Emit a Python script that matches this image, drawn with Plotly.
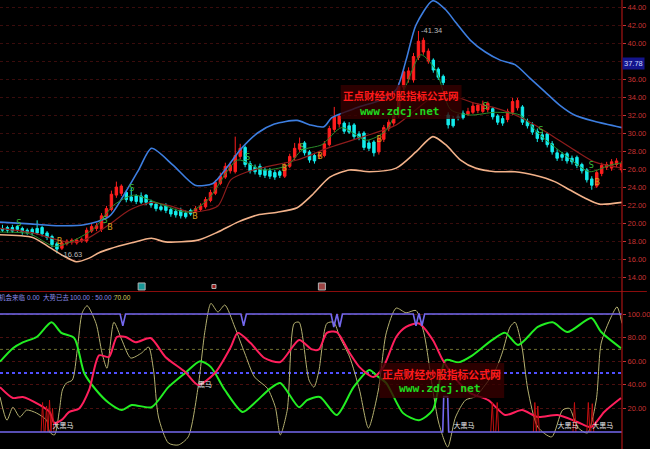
import plotly.graph_objects as go

# ---------------- price bars (bar index 0..125) ----------------
bar_open = [
    19.2, 19.5, 19.1, 19.6, 19.4, 18.9, 19.3, 18.9, 19.5, 18.9, 18.5, 17.7,
    17.2, 17.7, 18.1, 17.8, 18.2, 18.0, 19.1, 19.7, 19.3, 20.7, 21.5, 23.1, 24.1,
    23.4, 22.5, 23.0, 22.3, 23.1, 22.4, 22.1, 21.5, 21.9, 21.5, 20.9, 21.4, 20.7, 21.0,
    21.3, 21.5, 21.8, 22.5, 23.3, 24.4, 25.1, 26.4, 25.7, 27.4,
    28.4, 26.6, 25.7, 26.3, 25.3, 25.8, 25.1, 25.7,
    25.2, 26.3, 27.3, 28.2,
    28.9, 27.9, 26.9,
    27.4, 27.5, 28.7, 30.4, 31.9,
    31.1, 30.1, 30.9, 29.5, 30.0, 28.3, 29.0,
    27.9, 29.3, 30.5, 31.1, 32.0, 35.1, 36.9, 35.9, 38.4, 40.3, 39.1,
    38.1, 37.1, 36.3,
    32.0, 30.8, 31.7, 31.7,
    32.1, 32.3, 33.1, 32.4, 33.3,
    32.7, 31.9, 31.1,
    31.5, 32.3, 33.6,
    32.9, 31.3, 30.9, 30.2, 29.3, 29.9, 28.8, 27.8, 27.3, 27.7, 26.8, 27.3, 26.5, 25.9, 24.9,
    24.1, 25.5, 26.5, 26.1, 26.9, 26.6,
]
bar_high = [
    19.8, 19.7, 19.8, 19.8, 19.6, 19.4, 19.5, 20.3, 19.7, 19.1, 18.7, 17.9,
    18.1, 18.2, 18.3, 18.3, 18.4, 19.5, 20.0, 20.0, 21.1, 21.9, 23.6, 24.6, 24.3,
    23.6, 23.9, 23.2, 23.4, 23.2, 22.6, 22.3, 22.1, 22.2, 21.7, 21.6, 21.7, 21.4, 21.6,
    21.9, 22.2, 22.9, 23.7, 24.8, 25.6, 26.7, 26.8, 29.6, 28.8,
    28.6, 26.9, 26.5, 26.6, 26.2, 26.1, 25.9, 25.9,
    26.7, 27.7, 28.9, 29.5,
    29.1, 28.1, 27.8,
    27.9, 29.1, 30.8, 32.9, 32.1,
    31.3, 31.2, 31.1, 30.2, 30.2, 29.2, 29.2,
    29.7, 30.9, 31.5, 32.3, 35.6, 37.2, 37.3, 38.9, 41.34, 40.6, 39.4,
    38.3, 37.3, 36.5,
    32.3, 31.9, 32.1, 32.5,
    32.8, 33.4, 33.3, 33.6, 33.5,
    32.9, 32.1, 31.9,
    32.7, 33.9, 33.9,
    33.1, 31.6, 31.2, 30.5, 30.1, 30.1, 29.1, 28.2, 27.9, 27.9, 27.5, 27.5, 26.7, 26.1, 25.2,
    25.9, 26.7, 26.8, 27.1, 27.2, 26.9,
]
bar_low = [
    19.0, 18.9, 18.9, 19.0, 18.7, 18.7, 18.6, 18.7, 18.5, 18.1, 17.3, 16.63,
    17.0, 17.5, 17.6, 17.6, 17.8, 17.8, 18.9, 19.1, 19.0, 20.5, 21.3, 22.8, 23.0,
    22.3, 22.3, 22.1, 22.1, 22.0, 21.7, 21.3, 21.3, 21.1, 20.7, 20.6, 20.5, 20.5, 20.8,
    21.1, 21.3, 21.6, 22.3, 23.1, 24.2, 24.9, 25.5, 25.5, 27.1,
    26.2, 25.5, 25.4, 25.1, 25.0, 24.9, 24.8, 25.0,
    25.0, 26.1, 27.0, 27.9,
    27.5, 26.7, 26.6,
    27.1, 27.3, 28.5, 30.1, 30.6,
    29.9, 29.9, 29.3, 29.2, 28.1, 28.0, 27.4,
    27.6, 29.0, 30.2, 30.8, 31.7, 34.8, 35.6, 35.6, 38.1, 38.7, 37.7,
    36.7, 35.9, 35.3,
    30.5, 30.6, 31.4, 31.5,
    31.9, 32.1, 32.2, 32.2, 32.3,
    31.5, 30.9, 30.8,
    31.2, 32.0, 32.5,
    30.9, 30.5, 29.8, 29.0, 29.0, 28.4, 27.6, 26.9, 26.9, 26.6, 26.5, 26.1, 25.5, 24.5, 23.7,
    23.9, 25.2, 25.9, 25.8, 26.2, 25.6,
]
bar_close = [
    19.4, 19.2, 19.5, 19.3, 19.0, 19.2, 18.9, 19.4, 18.8, 18.4, 17.6, 17.1,
    17.8, 18.0, 17.9, 18.1, 18.0, 19.2, 19.6, 19.4, 20.8, 21.6, 23.2, 24.0, 23.3,
    22.6, 22.9, 22.4, 23.0, 22.3, 22.0, 21.6, 21.8, 21.4, 21.0, 21.3, 20.8, 21.1, 21.4,
    21.6, 21.9, 22.6, 23.4, 24.5, 25.2, 26.3, 25.8, 27.5, 28.3,
    26.5, 25.8, 26.2, 25.4, 25.9, 25.2, 25.6, 25.3,
    26.4, 27.4, 28.3, 28.8,
    27.8, 27.0, 27.5,
    27.6, 28.8, 30.5, 31.8, 31.0,
    30.2, 30.8, 29.6, 29.9, 28.4, 28.9, 27.8,
    29.4, 30.6, 31.2, 31.9, 35.2, 36.8, 36.0, 38.5, 40.2, 39.0, 38.0,
    37.0, 36.2, 35.6,
    30.9, 31.6, 31.8, 32.2,
    32.4, 33.0, 32.5, 33.2, 32.6,
    31.8, 31.2, 31.6,
    32.4, 33.5, 32.8,
    31.2, 30.8, 30.1, 29.4, 29.8, 28.7, 27.9, 27.2, 27.6, 26.9, 27.2, 26.4, 25.8, 24.8, 24.2,
    25.6, 26.4, 26.2, 26.8, 26.5, 25.9,
]
# trend state runs (colour of the bars)
trend_runs = [("down", 12), ("up", 13), ("down", 14), ("up", 10), ("down", 8), ("up", 4),
              ("down", 3), ("up", 5), ("down", 7), ("up", 11), ("down", 3), ("down", 4),
              ("up", 5), ("down", 3), ("up", 3), ("down", 15), ("up", 6)]

# ---------------- price-panel lines ----------------
upper_band_x = [-0.5, 5.5, 11.5, 16.5, 21.5, 24.5, 27.5, 30.1, 34.5, 38.9, 42.5, 45.5, 48.1,
                51.5, 54.9, 59.5, 62.1, 64.9, 66.5, 71.5, 76.5, 79.5, 81.5, 83.5, 86.9,
                89.5, 91.5, 94.5, 97.5, 100.5, 103.5, 106.5, 109.5, 112.5, 115.5, 119.5, 125.1]
upper_band_y = [20.1, 19.9, 19.7, 19.8, 20.7, 23.1, 25.9, 28.3, 26.4, 24.2, 24.4, 26.3, 28.2,
                30.0, 31.0, 31.4, 30.9, 30.7, 31.7, 32.8, 33.7, 34.8, 38.1, 42.0, 44.7,
                43.7, 42.3, 40.3, 39.0, 38.1, 37.6, 36.1, 34.6, 33.1, 32.0, 31.3, 30.6]
lower_band_x = [-0.5, 6.1, 9.5, 12.5, 14.9, 17.5, 19.5, 21.5, 26.1, 30.1, 32.9, 39.5, 43.5,
                47.5, 51.5, 55.5, 59.5, 62.5, 66.1, 70.1, 74.1, 79.5, 83.5, 86.9, 89.5,
                92.5, 95.5, 99.5, 103.5, 107.5, 111.5, 114.5, 117.5, 120.5, 125.1]
lower_band_y = [18.7, 18.4, 17.3, 16.3, 15.7, 16.1, 16.7, 17.1, 17.8, 18.3, 17.9, 18.1, 19.0,
                20.1, 20.9, 21.2, 21.7, 23.1, 25.1, 25.9, 25.7, 26.1, 27.9, 29.6, 28.7,
                27.0, 26.1, 25.7, 25.7, 25.3, 24.6, 23.7, 22.8, 22.1, 22.3]
mid_ma_x = [-0.5, 6.1, 12.9, 16.5, 21.5, 25.5, 30.1, 34.5, 38.1, 43.5, 46.1, 49.5, 52.9,
            59.5, 66.1, 72.9, 79.5, 83.5, 87.5, 91.5, 95.5, 99.5, 103.5, 107.5, 111.5,
            115.5, 119.5, 125.1]
mid_ma_y = [19.4, 18.9, 17.9, 18.1, 19.8, 21.4, 22.3, 21.8, 21.2, 21.9, 24.8, 25.7, 26.2,
            27.0, 28.4, 29.6, 30.9, 32.6, 34.2, 34.0, 33.3, 32.8, 32.0, 30.9, 29.5,
            28.1, 26.8, 26.1]
short_ma_x = [-0.5, 5.5, 10.5, 14.5, 18.5, 22.5, 26.5, 31.5, 37.5, 41.5, 47.5, 52.5, 57.5,
              60.5, 64.5, 68.5, 73.5, 77.5, 81.5, 84.5, 87.5, 90.5, 94.5, 99.5, 104.5,
              108.5, 113.5, 118.5, 122.5, 125.1]
short_ma_y = [19.0, 18.8, 17.4, 18.1, 19.4, 22.0, 23.1, 22.2, 21.2, 22.6, 27.0, 25.9, 26.4,
              28.1, 28.7, 30.6, 29.2, 30.3, 35.3, 38.7, 37.0, 32.6, 32.0, 32.3, 32.0,
              29.8, 27.6, 25.7, 26.4, 26.7]

# buy / sell marks
sell_mark_x = [3.3, 20.7, 26.1, 49.5, 60.5, 97.5, 108.7, 118.9]
sell_mark_y = [19.9, 20.2, 23.8, 27.2, 28.3, 32.9, 30.2, 26.3]
buy_mark_x = [11.5, 21.7, 38.9, 56.9, 64.1, 76.1, 120.1]
buy_mark_y = [17.9, 19.4, 20.7, 26.0, 27.3, 29.2, 24.4]
event_x = [28.1, 42.7, 64.5]
event_colors = ["#22d6d6", "#e02020", "#e06060"]

# ---------------- indicator panel ----------------
green_x = [-0.5, 2.1, 4.1, 6.9, 9.9, 11.9, 14.5, 16.5, 18.9, 21.5, 24.1, 26.1, 30.1, 33.5, 36.9,
           39.9, 42.1, 44.9, 48.5, 50.9, 54.1, 56.1, 59.9, 61.5, 64.1, 67.5, 70.9, 74.1, 75.5,
           77.5, 80.9, 84.1, 86.9, 89.5, 92.1, 94.9, 98.9, 101.5, 104.1, 108.1, 111.1, 114.1,
           118.9, 120.9, 124.9]
green_y = [59.6, 71, 76, 80.5, 93, 84, 79.6, 50, 35.6, 24.6, 18.6, 22.9, 21, 38, 50,
           60, 55, 35.6, 17, 24.6, 37, 41.5, 21, 27, 29.7, 14.4, 38, 52.5, 48,
           41.5, 16, 10, 18.6, 61, 59, 65, 78, 84, 73.7, 89, 93, 84.7,
           96.6, 84.7, 71]
pink_x = [-0.5, 2.1, 4.1, 7.5, 9.5, 10.5, 11.9, 13.5, 15.5, 17.5, 19.5, 21.5, 23.1, 24.9, 26.9,
          29.9, 32.9, 36.9, 39.5, 42.9, 46.1, 47.5, 50.1, 52.9, 56.1, 59.9, 62.5, 63.9, 65.5,
          67.5, 70.1, 72.1, 74.9, 76.9, 79.5, 81.5, 84.1, 86.9, 88.9, 91.5, 94.5, 98.1, 101.5,
          104.9, 108.1, 112.1, 116.1, 118.9, 121.5, 124.9]
pink_y = [38, 28.8, 29.7, 22.9, 17, 7.6, 10, 17, 20, 35.6, 65, 63.6, 80.5, 80.5, 76,
          79.6, 63.6, 50.8, 39.8, 50, 72, 84, 75.4, 62.7, 59.3, 78, 70, 70, 84,
          84.7, 67, 55, 46.6, 55, 80.5, 89, 92, 78, 61, 45, 33, 27, 14.4,
          18.6, 12.7, 14.4, 8.5, 4.2, 17, 28.8]
olive_x = [-0.5, 0.9, 2.1, 3.5, 4.9, 6.9, 8.9, 9.5, 10.5, 11.5,
           12.1, 12.9, 14.1, 15.1, 16.1, 17.1, 18.9, 20.1, 21.1, 22.5,
           24.1, 25.9, 28.1, 29.5, 30.5, 31.5, 33.5, 35.5, 37.5, 39.5,
           40.9, 42.1, 43.5, 44.9, 46.9, 48.9, 50.9, 53.5, 55.1, 56.1,
           57.5, 58.9, 59.9, 61.9, 62.9, 63.9, 65.5, 66.9, 68.1, 70.1,
           72.1, 73.9, 75.9, 77.5, 79.5, 81.5, 83.5, 85.1, 86.9, 88.1,
           89.9, 91.5, 93.5, 95.5, 97.5, 99.5, 100.9, 102.5, 103.5, 104.9,
           106.1, 108.1, 110.9, 113.1, 114.5, 116.1, 118.1, 119.9, 120.9, 122.9,
           124.1, 125.1]
olive_y = [29.7, 10, 21, 12.7, 18.6, 16, 10, 0, -2.5, 18.6,
           35.6, 41.5, 44, 69.5, 101, 107, 92, 67, 54, 93,
           78, 62.7, 67, 72, 52.5, 12.7, -9.3, -11, -4.2, 38,
           86, 109, 101.7, 107.6, 89, 67, 46.6, 37, 21, -2.5,
           18.6, 92, 93, 44, 38, 52, 92, 93, 80.5, 63.6,
           35.6, 3.4, 35.6, 84, 105, 101, 103, 84, 35.6, 7.6,
           -12.7, 12.7, 27, 30, 40, 52, 67, 89, 93, 72,
           35.6, 4.2, -4.2, 18.6, 20, 4.2, -0.8, 27, 75.4, 97.5,
           106, 92]
top_dip_x = [24.3, 48.7, 66.9, 68.1, 83.5, 84.7]
top_dip_y = [90, 90, 89, 89, 90, 90]
bottom_sig_x = [-0.5, 88.9, 89.1, 89.9, 90.1, 125.1]
bottom_sig_y = [0, 0, 30, 30, 0, 0]
stick_x = [8.1, 8.9, 9.5, 10.1, 98.9, 99.9, 107.5, 108.1, 115.5, 118.3, 119.1]
stick_y = [25, 22, 27, 20, 25, 25, 25, 22, 25, 25, 24]
horse_x = [10.1, 39.5, 91.1, 112.1, 119.1]
horse_y = [4.5, 40, 4.5, 4.5, 4.5]
horse_text = ["大黑马", "黑马", "大黑马", "大黑马", "大黑马"]

price_ticks = [14, 16, 18, 20, 22, 24, 26, 28, 30, 32, 34, 36, 38, 40, 42, 44]
osc_ticks = [20, 40, 60, 80, 100]
last_price_tag = 37.78

# ---------------- build ----------------
RED = "#ff1e1e"
CYAN = "#14ecec"
AXIS_RED = "#c83232"
PURPLE = "#7468ee"
CJK = "Noto Sans CJK SC"

trend = []
for state, n in trend_runs:
    trend += [state] * n

fig = go.Figure()

def line(x, y, color, width, axis="1", smooth=True, dash=None):
    fig.add_trace(go.Scatter(
        x=x, y=y, mode="lines",
        line=dict(color=color, width=width, shape="spline" if smooth else "linear",
                  smoothing=0.7, dash=dash),
        xaxis="x" if axis == "1" else "x2", yaxis="y" if axis == "1" else "y2",
        hoverinfo="skip", showlegend=False))

line(lower_band_x, lower_band_y, "#f2b28a", 1.6)
line(upper_band_x, upper_band_y, "#3d7ee0", 1.6)
line(mid_ma_x, mid_ma_y, "#8e1c1c", 1.2)

for state, col in (("up", RED), ("down", CYAN)):
    idx = [i for i, t in enumerate(trend) if t == state]
    fig.add_trace(go.Candlestick(
        x=idx,
        open=[bar_open[i] for i in idx], high=[bar_high[i] for i in idx],
        low=[bar_low[i] for i in idx], close=[bar_close[i] for i in idx],
        increasing=dict(line=dict(color=col, width=1), fillcolor=col),
        decreasing=dict(line=dict(color=col, width=1), fillcolor=col),
        whiskerwidth=0, xaxis="x", yaxis="y", hoverinfo="skip", showlegend=False))

line(short_ma_x, short_ma_y, "#2a8c2a", 1)

fig.add_trace(go.Scatter(x=sell_mark_x, y=sell_mark_y, mode="text", text=["S"] * len(sell_mark_x),
                         textfont=dict(color="#3cbc3c", size=8, family="DejaVu Sans"),
                         xaxis="x", yaxis="y", hoverinfo="skip", showlegend=False))
fig.add_trace(go.Scatter(x=buy_mark_x, y=buy_mark_y, mode="text", text=["B"] * len(buy_mark_x),
                         textfont=dict(color="#d8a020", size=8, family="DejaVu Sans"),
                         xaxis="x", yaxis="y", hoverinfo="skip", showlegend=False))
fig.add_trace(go.Scatter(x=event_x, y=[12.95] * len(event_x), mode="markers",
                         marker=dict(symbol="square", size=[7, 4, 7], color=event_colors),
                         xaxis="x", yaxis="y", hoverinfo="skip", showlegend=False))

# indicator panel
line(olive_x, olive_y, "#b4b070", 1, axis="2")
line(green_x, green_y, "#22ee22", 2, axis="2")
line(pink_x, pink_y, "#ff1f5c", 2, axis="2")

sx, sy = [], []
for x, h in zip(stick_x, stick_y):
    sx += [x - 0.3, x, x + 0.3, None]
    sy += [0, h, 0, None]
fig.add_trace(go.Scatter(x=sx, y=sy, mode="lines", line=dict(color="#c41010", width=1),
                         xaxis="x2", yaxis="y2", hoverinfo="skip", showlegend=False))

tx, ty = [-0.5], [100]
for d, v in zip(top_dip_x, top_dip_y):
    tx += [d - 0.55, d, d + 0.55]
    ty += [100, v, 100]
tx.append(125.1)
ty.append(100)
line(tx, ty, PURPLE, 1.6, axis="2", smooth=False)
line(bottom_sig_x, bottom_sig_y, PURPLE, 1.6, axis="2", smooth=False)

fig.add_trace(go.Scatter(x=horse_x, y=horse_y, mode="text", text=horse_text,
                         textposition="middle right",
                         textfont=dict(color="#e6e6e6", size=7, family=CJK),
                         xaxis="x2", yaxis="y2", hoverinfo="skip", showlegend=False))

# ---------------- layout ----------------
PH = 449.0
PW = 628.0
up_bottom = (PH - 291) / PH
low_top = (PH - 292) / PH

fig.update_layout(
    width=650, height=449,
    margin=dict(l=0, r=22, t=0, b=0),
    paper_bgcolor="black", plot_bgcolor="black",
    showlegend=False,
    xaxis=dict(domain=[0, 1], range=[-0.5, 125.1], visible=False, anchor="y",
               rangeslider=dict(visible=False), fixedrange=True),
    xaxis2=dict(domain=[0, 1], range=[-0.5, 125.1], visible=False, anchor="y2",
                matches="x", rangeslider=dict(visible=False)),
    yaxis=dict(domain=[up_bottom, 1], range=[12.447, 44.78], side="right", anchor="x",
               tickvals=price_ticks,
               ticktext=["" if v == 38 else "%.2f" % v for v in price_ticks],
               tickfont=dict(color=AXIS_RED, size=7.5, family="Liberation Sans"),
               ticks="outside", ticklen=3, tickcolor=AXIS_RED,
               showgrid=True, gridcolor="#3a0c0c", griddash="dot", gridwidth=1,
               zeroline=False, showline=False),
    yaxis2=dict(domain=[0, low_top], range=[-14.41, 118.64], side="right", anchor="x2",
                tickvals=osc_ticks, ticktext=["%.2f" % v for v in osc_ticks],
                tickfont=dict(color=AXIS_RED, size=7.5, family="Liberation Sans"),
                ticks="outside", ticklen=3, tickcolor=AXIS_RED,
                showgrid=True, gridcolor="#4a1010", griddash="dot", gridwidth=1,
                zeroline=False, showline=False),
)

shapes = [
    dict(type="line", xref="paper", yref="y2", x0=0, x1=1, y0=50, y1=50,
         line=dict(color="#5050ff", width=2, dash="dot"), layer="below"),
    dict(type="line", xref="paper", yref="y2", x0=0, x1=1, y0=70, y1=70,
         line=dict(color="#6e6e30", width=1, dash="dot"), layer="below"),
    dict(type="line", xref="paper", yref="paper", x0=0, x1=1.04, y0=(PH - 291.5) / PH,
         y1=(PH - 291.5) / PH, line=dict(color="#8a0c0c", width=1.2)),
    dict(type="line", xref="paper", yref="paper", x0=1, x1=1, y0=0, y1=1,
         line=dict(color="#a81414", width=1.2)),
    # watermark panels
    dict(type="rect", xref="paper", yref="paper", x0=344 / PW, x1=466 / PW,
         y0=(PH - 119) / PH, y1=(PH - 85) / PH, fillcolor="rgba(55,0,0,0.78)",
         line=dict(width=0), layer="above"),
    dict(type="rect", xref="paper", yref="paper", x0=383 / PW, x1=509 / PW,
         y0=(PH - 398) / PH, y1=(PH - 363) / PH, fillcolor="rgba(55,0,0,0.78)",
         line=dict(width=0), layer="above"),
]

ann = []
def text(x_px, y_px, s, color, size, family, anchor="center", bold=False, **kw):
    ann.append(dict(xref="paper", yref="paper", x=x_px / PW, y=(PH - y_px) / PH,
                    text=("<b>%s</b>" % s) if bold else s, showarrow=False,
                    xanchor=anchor, yanchor="middle",
                    font=dict(color=color, size=size, family=family), **kw))

text(405, 95, "正点财经炒股指标公式网", "#ff1a1a", 10.5, CJK, bold=True)
text(403, 111, "www.zdcj.net", "#1fd81f", 11, "DejaVu Sans Mono", bold=True)
text(446, 374, "正点财经炒股指标公式网", "#ff1a1a", 10.8, CJK, bold=True)
text(444, 389, "www.zdcj.net", "#1fd81f", 11.3, "DejaVu Sans Mono", bold=True)

text(-3, 297, "机会来临", "#8a8ae8", 6.5, CJK, anchor="left")
text(25, 297, "0.00", "#8a8ae8", 6.5, "Liberation Sans", anchor="left")
text(41, 297, "大势已去", "#8a8ae8", 6.5, CJK, anchor="left")
text(69, 297, "100.00 : 50.00 :", "#8a8ae8", 6.5, "Liberation Sans", anchor="left")
text(113, 297, "70.00", "#d8d060", 6.5, "Liberation Sans", anchor="left")

ann.append(dict(xref="x", yref="y", x=11.4, y=16.5, text="-16.63", showarrow=False,
                xanchor="left", yanchor="middle",
                font=dict(color="#b8b8b8", size=7.5, family="Liberation Sans")))
ann.append(dict(xref="x", yref="y", x=84.1, y=41.34, text="-41.34", showarrow=False,
                xanchor="left", yanchor="middle",
                font=dict(color="#b8b8b8", size=7.5, family="Liberation Sans")))
ann.append(dict(xref="paper", yref="y", x=1, y=last_price_tag, text="37.78", showarrow=False,
                xanchor="left", yanchor="middle", bgcolor="#14148c", borderpad=1,
                font=dict(color="#c8d4ff", size=7.5, family="Liberation Sans")))

fig.update_layout(shapes=shapes, annotations=ann)
fig.write_html("out.html", config={"displayModeBar": False},
               post_script="document.body.style.margin='0';document.body.style.background='black';")
